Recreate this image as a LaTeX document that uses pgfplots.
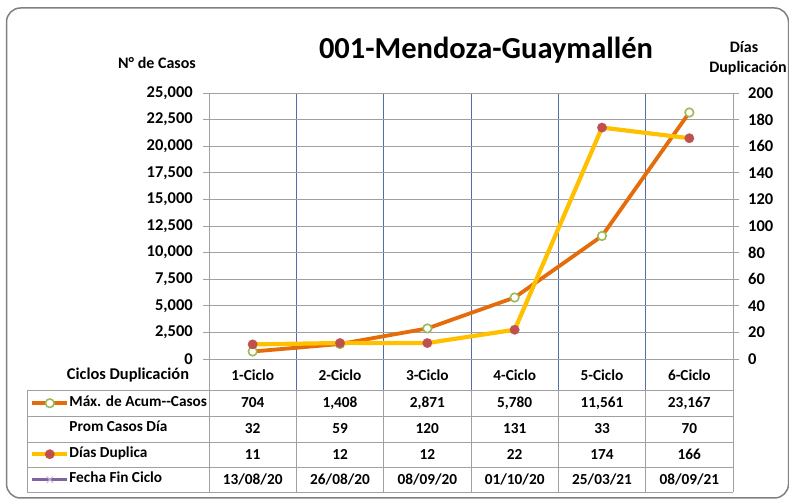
\documentclass[border=0pt]{standalone}
\usepackage{pgfplots}
\pgfplotsset{compat=1.18}
\usepackage{fontspec}
\setmainfont{Carlito}
\definecolor{orangeL}{RGB}{228,108,10}
\definecolor{yellowL}{RGB}{255,192,0}
\definecolor{greenM}{RGB}{155,187,89}
\definecolor{redM}{RGB}{192,80,77}
\definecolor{purpleL}{RGB}{128,100,162}
\definecolor{blueG}{RGB}{79,110,170}
\definecolor{gridG}{RGB}{160,160,160}
\definecolor{frameG}{RGB}{128,128,128}
\newcommand{\tabfont}{\fontsize{15.3}{17}\selectfont\bfseries}
\newcommand{\tickfont}{\fontsize{16.5}{18}\selectfont\bfseries}
\newcommand{\ttlfont}{\fontsize{16}{18}\selectfont\bfseries}
\begin{document}
\begin{tikzpicture}[x=1pt,y=1pt]
\useasboundingbox (0,0) rectangle (789,502);
\draw[frameG, line width=1.5pt, rounded corners=14pt] (6.5,4) rectangle (788.5,494);
% vertical category boundaries (plot area and category row)
\foreach \xx in {296.33,383.67,471,558.33,645.67}
  \draw[blueG, line width=0.8pt] (\xx,112) -- (\xx,409);
% frame lines of plot area
\draw[blueG, line width=0.8pt] (209,409) -- (733,409);
\draw[gridG, line width=0.9pt] (209,10) -- (209,409);
\draw[gridG, line width=0.9pt] (733,10) -- (733,409);
% table grid
\foreach \yy in {112,86,60,35,10}
  \draw[gridG, line width=0.9pt] (27,\yy) -- (733,\yy);
\foreach \xx in {27,296.33,383.67,471,558.33,645.67}
  \draw[gridG, line width=0.9pt] (\xx,10) -- (\xx,112);
% left axis: cases
\begin{axis}[
  at={(209pt,143pt)}, anchor=south west,
  width=524pt, height=266pt, scale only axis,
  xmin=-0.5, xmax=5.5, ymin=0, ymax=25000,
  xtick=\empty,
  ytick={0,2500,...,25000}, ymajorgrids=true, ytick pos=left,
  major grid style={gridG, line width=0.9pt},
  axis line style={draw=none},
  tick align=outside, major tick length=6pt,
  every tick/.style={gridG, line width=0.9pt},
  scaled y ticks=false,
  yticklabel style={font=\tickfont, inner sep=0pt, anchor=east, xshift=-10pt,
    /pgf/number format/.cd, fixed, 1000 sep={,}, assume math mode=true},
  clip=false,
]
\addplot[orangeL, line width=3.8pt, line join=round, mark=*, mark size=4.3pt,
  mark options={draw=greenM, fill=white, line width=1.6pt}]
  coordinates {(0,704)(1,1408)(2,2871)(3,5780)(4,11561)(5,23167)};
\end{axis}
\draw[gridG, line width=0.9pt] (203,143) -- (739,143);
% right axis: days
\begin{axis}[
  at={(209pt,143pt)}, anchor=south west,
  width=524pt, height=266pt, scale only axis,
  xmin=-0.5, xmax=5.5, ymin=0, ymax=200,
  xtick=\empty,
  ytick={0,20,...,200}, ytick pos=right,
  axis line style={draw=none},
  tick align=outside, major tick length=6pt,
  every tick/.style={gridG, line width=0.9pt},
  yticklabel style={font=\tickfont, inner sep=0pt, anchor=west, xshift=9pt,
    /pgf/number format/assume math mode=true},
  clip=false,
  legend style={at={(-0.3416,-0.1429)}, anchor=north west, draw=none, fill=none,
    inner sep=0pt, row sep=13.5pt, column sep=0pt, font=\tabfont,
    cells={anchor=west}, nodes={inner sep=0pt, text height=9pt, text depth=3pt}},
  legend image code/.code={\draw[mark repeat=2,mark phase=2,#1] plot coordinates {(0pt,0pt)(17.5pt,0pt)(35pt,0pt)};},
]
\addlegendimage{orangeL, line width=3.8pt, mark=*, mark size=4.3pt, mark options={draw=greenM, fill=white, line width=1.6pt}}
\addlegendentry{Máx. de Acum-{}-Casos}
\addlegendimage{empty legend}
\addlegendentry{Prom Casos Día}
\addlegendimage{yellowL, line width=4.2pt, mark=*, mark size=4.8pt, mark options={draw=redM, fill=redM, line width=0.1pt}}
\addlegendentry{Días Duplica}
\addlegendimage{purpleL, line width=3.5pt, mark=x, mark size=4.5pt, mark options={draw=purpleL!45, line width=1pt}}
\addlegendentry{Fecha Fin Ciclo}
\addplot[forget plot, yellowL, line width=4.2pt, line join=round, mark=*, mark size=4.8pt,
  mark options={draw=redM, fill=redM, line width=0.1pt}]
  coordinates {(0,11)(1,12)(2,12)(3,22)(4,174)(5,166)};
\end{axis}
% titles
\node[font=\fontsize{30.5}{34}\selectfont\bfseries] at (486,452) {001-Mendoza-Guaymallén};
\node[font=\ttlfont] at (157,439) {N° de Casos};
\node[font=\ttlfont] at (744,455) {Días};
\node[font=\ttlfont] at (748,434) {Duplicación};
\node[font=\fontsize{16.4}{18}\selectfont\bfseries] at (128,127) {Ciclos Duplicación};
% category labels and table values
\foreach \lab [count=\i from 0] in {1-Ciclo,2-Ciclo,3-Ciclo,4-Ciclo,5-Ciclo,6-Ciclo}
  \node[font=\tabfont] at ({252.67+87.333*\i},127) {\lab};
\foreach \v [count=\i from 0] in {704,{1,408},{2,871},{5,780},{11,561},{23,167}}
  \node[font=\tabfont] at ({252.67+87.333*\i},99) {\v};
\foreach \v [count=\i from 0] in {32,59,120,131,33,70}
  \node[font=\tabfont] at ({252.67+87.333*\i},73) {\v};
\foreach \v [count=\i from 0] in {11,12,12,22,174,166}
  \node[font=\tabfont] at ({252.67+87.333*\i},47.5) {\v};
\foreach \v [count=\i from 0] in {13/08/20,26/08/20,08/09/20,01/10/20,25/03/21,08/09/21}
  \node[font=\tabfont] at ({252.67+87.333*\i},22.5) {\v};
\end{tikzpicture}
\end{document}
